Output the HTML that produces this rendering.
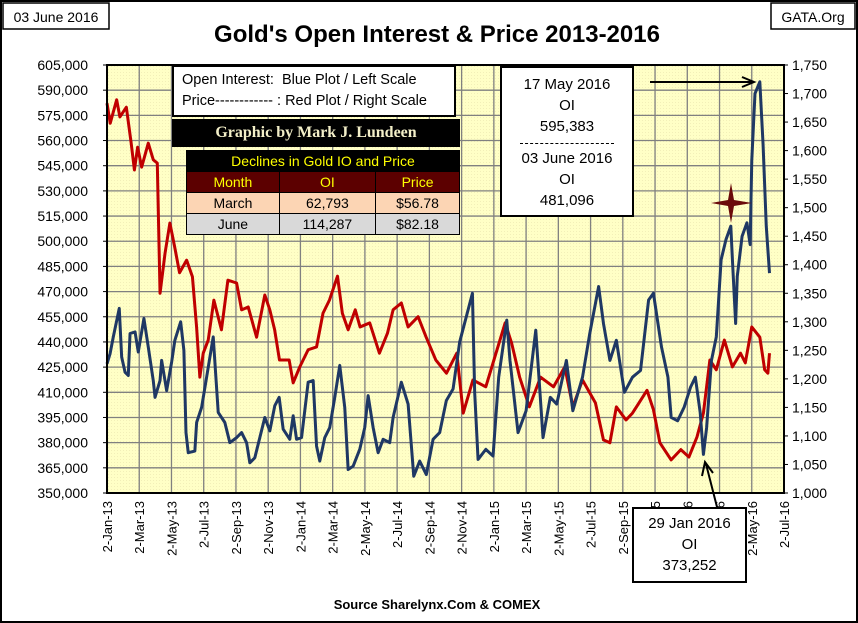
<!DOCTYPE html>
<html><head><meta charset="utf-8"><style>
body{margin:0;background:#fff;}
#wrap{position:relative;width:858px;height:623px;overflow:hidden;font-family:"Liberation Sans",sans-serif;}
</style></head><body>
<div id="wrap">
<svg id="svg" width="858" height="623" xmlns="http://www.w3.org/2000/svg">
<defs><pattern id="dots" width="3" height="3" patternUnits="userSpaceOnUse"><rect width="3" height="3" fill="#ffffc6"/><rect width="1" height="1" fill="#f2efb8"/></pattern></defs>
<rect x="1" y="1" width="856" height="621" fill="#fff" stroke="#000" stroke-width="2"/>
<rect x="3" y="3" width="106" height="26" fill="#fff" stroke="#000" stroke-width="1.5"/>
<text x="56" y="22" font-size="14" text-anchor="middle">03 June 2016</text>
<rect x="771" y="3" width="84" height="26" fill="#fff" stroke="#000" stroke-width="1.5"/>
<text x="813" y="22" font-size="14" text-anchor="middle">GATA.Org</text>
<text x="437" y="42" font-size="24" font-weight="bold" text-anchor="middle">Gold's Open Interest &amp; Price 2013-2016</text>
<rect x="107" y="65" width="677" height="428" fill="url(#dots)"/>
<g id="grid"></g><g id="series"></g><g id="axes"></g>
<text x="437" y="609" font-size="13" font-weight="bold" text-anchor="middle">Source Sharelynx.Com &amp; COMEX</text>
</svg>
<div style="position:absolute;left:172px;top:65px;width:284px;height:52px;background:#fff;border:2px solid #000;box-sizing:border-box;font-size:14.5px;line-height:21px;padding:3px 0 0 8px;">
<div>Open Interest:&nbsp; Blue Plot / Left Scale</div>
<div>Price------------ : Red Plot / Right Scale</div></div>
<div style="position:absolute;left:172px;top:119px;width:288px;height:28px;background:#000;color:#f3efc8;font-family:'Liberation Serif',serif;font-weight:bold;font-size:16px;line-height:28px;text-align:center;">Graphic by Mark J. Lundeen</div>
<table style="position:absolute;left:186px;top:150px;width:274px;border-collapse:collapse;font-size:14px;text-align:center;">
<tr style="background:#000;color:#ffff00;height:21px"><td colspan="3" style="border:1px solid #000">Declines in Gold IO and Price</td></tr>
<tr style="background:#5c0000;color:#ffff00;height:21px"><td style="border:1px solid #000;width:34%">Month</td><td style="border:1px solid #000">OI</td><td style="border:1px solid #000">Price</td></tr>
<tr style="background:#fcd5b4;height:21px"><td style="border:1px solid #000">March</td><td style="border:1px solid #000">62,793</td><td style="border:1px solid #000">$56.78</td></tr>
<tr style="background:#d9d9d9;height:21px"><td style="border:1px solid #000">June</td><td style="border:1px solid #000">114,287</td><td style="border:1px solid #000">$82.18</td></tr>
</table>
<div style="position:absolute;left:500px;top:66px;width:134px;height:151px;background:#fff;border:2px solid #000;box-sizing:border-box;font-size:15px;line-height:21px;text-align:center;padding-top:6px;">17 May 2016<br>OI<br>595,383<div style="border-top:1px dashed #000;margin:6px 18px 4px"></div>03 June 2016<br>OI<br>481,096</div>
<div style="position:absolute;left:632px;top:507px;width:115px;height:76px;background:#fff;border:2px solid #000;box-sizing:border-box;font-size:15px;line-height:21px;text-align:center;padding-top:4px;">29 Jan 2016<br>OI<br>373,252</div>
</div>
<script>
const xTicks=["2-Jan-13","2-Mar-13","2-May-13","2-Jul-13","2-Sep-13","2-Nov-13","2-Jan-14","2-Mar-14","2-May-14","2-Jul-14","2-Sep-14","2-Nov-14","2-Jan-15","2-Mar-15","2-May-15","2-Jul-15","2-Sep-15","2-Nov-15","2-Jan-16","2-Mar-16","2-May-16","2-Jul-16"];
const leftTicks=[350000,365000,380000,395000,410000,425000,440000,455000,470000,485000,500000,515000,530000,545000,560000,575000,590000,605000];
const rightTicks=[1000,1050,1100,1150,1200,1250,1300,1350,1400,1450,1500,1550,1600,1650,1700,1750];
const oiMonths=[0,0.19,0.39,0.76,0.91,1.12,1.32,1.43,1.74,1.94,2.29,2.56,2.87,2.98,3.29,3.39,3.7,4.01,4.21,4.57,4.77,4.9,5.04,5.45,5.56,5.87,6.18,6.59,6.9,7.31,7.62,8.04,8.35,8.66,8.86,9.17,9.48,9.79,10.1,10.41,10.68,10.93,11.34,11.55,11.76,12.07,12.48,12.79,13,13.2,13.51,13.82,14.13,14.44,14.75,14.96,15.27,15.68,15.99,16.2,16.51,16.82,17.13,17.54,17.75,18.26,18.68,19.03,19.4,19.81,20.23,20.64,21.05,21.47,21.88,22.29,22.67,22.81,23.02,23.5,23.95,24.3,24.8,25,25.5,26,26.6,27.05,27.5,27.9,28.5,28.9,29.5,29.95,30.5,30.8,31.2,31.6,32.1,32.6,33.1,33.6,33.9,34.4,34.8,35,35.4,35.8,36.2,36.5,36.8,37,37.2,37.5,37.8,38.1,38.4,38.7,38.8,39,39.1,39.4,39.7,39.9,40,40.2,40.5,40.7,40.9,41.1];
const oiValues=[427000,433000,443000,460000,431000,422000,420000,445000,446000,434000,454000,437000,417000,407000,417000,429000,411000,428000,441000,452000,435000,386000,374000,375000,392000,401000,419000,443000,398000,392000,380000,383000,386000,380000,368000,371000,383000,395000,387000,402000,407000,388000,382000,396000,382000,383000,416000,417000,378000,369000,383000,389000,407000,426000,401000,364000,366000,376000,389000,408000,389000,374000,382000,380000,395000,416000,403000,360000,369000,361000,382000,386000,405000,412000,440000,455000,469000,410000,370000,376000,372000,419000,453000,429000,386000,399000,447000,383000,407000,403000,429000,399000,419000,445000,473000,451000,429000,441000,410000,419000,423000,465000,469000,437000,419000,395000,393000,401000,413000,419000,398000,373000,389000,429000,443000,489000,501000,509000,489000,451000,479000,503000,511000,498000,548000,588000,595000,558000,509000,481000];
const priceMonths=[0,0.2,0.6,0.8,1.2,1.5,1.7,1.9,2.15,2.56,2.87,3.12,3.29,3.6,3.9,4.2,4.5,4.94,5.3,5.56,5.76,5.97,6.28,6.63,7.1,7.5,8.04,8.35,8.76,9.28,9.79,10.1,10.4,10.7,11.3,11.55,11.96,12.48,13,13.4,13.8,14.3,14.6,14.96,15.4,15.7,16.3,16.9,17.4,17.75,18.26,18.68,19.3,19.8,20.4,21.06,21.7,22.1,22.7,23.5,24.7,25.1,25.6,26.2,26.9,27.7,28.4,28.9,29.5,30.3,30.8,31.2,31.6,32.2,32.6,33.5,33.9,34.3,35,35.6,36.1,36.6,37,37.4,37.8,38.3,38.8,39.3,39.6,40,40.5,40.8,41,41.1];
const priceValues=[1683,1648,1689,1659,1676,1613,1566,1606,1571,1613,1584,1578,1350,1420,1473,1431,1386,1408,1379,1290,1203,1245,1268,1338,1286,1373,1368,1321,1326,1273,1347,1321,1286,1233,1233,1193,1221,1251,1256,1315,1338,1380,1315,1286,1321,1291,1298,1245,1280,1321,1333,1291,1309,1273,1233,1210,1245,1140,1198,1186,1298,1263,1203,1151,1203,1186,1221,1151,1198,1158,1093,1088,1151,1128,1140,1180,1146,1088,1058,1076,1063,1098,1140,1233,1216,1268,1221,1245,1228,1291,1273,1216,1210,1245];
const X0=107,X1=784,Y0=493,Y1=65,NM=42;
const xs=m=>X0+m/NM*(X1-X0);
const yL=v=>Y0-(v-350000)/(605000-350000)*(Y0-Y1);
const yR=v=>Y0-(v-1000)/(1750-1000)*(Y0-Y1);
const NS="http://www.w3.org/2000/svg";
function mk(t,a,p){const e=document.createElementNS(NS,t);for(const k in a)e.setAttribute(k,a[k]);p.appendChild(e);return e;}
const grid=document.getElementById('grid'),axes=document.getElementById('axes'),ser=document.getElementById('series');
leftTicks.forEach(v=>{const y=yL(v);
 const l=mk('line',{x1:X0,x2:X1,y1:y,y2:y,stroke:'#808080','stroke-width':1.3},grid);
 
 
 const t=mk('text',{x:88,y:y+5,'font-size':14,'text-anchor':'end'},axes);t.textContent=v.toLocaleString('en-US');
 
 
 mk('line',{x1:X0-4,x2:X0,y1:y,y2:y,stroke:'#000'},axes);});
rightTicks.forEach(v=>{const y=yR(v);
 const t=mk('text',{x:792,y:y+5,'font-size':14},axes);t.textContent=v.toLocaleString('en-US');
 
 
 mk('line',{x1:X1,x2:X1+4,y1:y,y2:y,stroke:'#000'},axes);});
xTicks.forEach((s,i)=>{const x=xs(i*2);
 const l=mk('line',{x1:x,x2:x,y1:Y1,y2:Y0,stroke:'#808080','stroke-width':1.3},grid);
 
 
 const t=mk('text',{x:0,y:0,'font-size':13,'text-anchor':'end',transform:`translate(${x+5},${Y0+8}) rotate(-90)`},axes);t.textContent=s;
 
 });
mk('rect',{x:X0,y:Y1,width:X1-X0,height:Y0-Y1,fill:'none',stroke:'#000','stroke-width':2},axes);
const pr=mk('polyline',{points:priceMonths.map((m,i)=>xs(m)+','+yR(priceValues[i])).join(' '),fill:'none',stroke:'#c00000','stroke-width':3,'stroke-linejoin':'round'},ser);


const oi=mk('polyline',{points:oiMonths.map((m,i)=>xs(m)+','+yL(oiValues[i])).join(' '),fill:'none',stroke:'#1f3864','stroke-width':3,'stroke-linejoin':'round'},ser);


const st=mk('path',{d:'M731,183 L734,200 L752,203 L734,206 L731,223 L728,206 L711,203 L728,200 Z',fill:'#6b0b0b'},axes);


const a1=mk('path',{d:'M650,82 L752,82 M742,77 L754,82 L742,87',fill:'none',stroke:'#000','stroke-width':2},axes);


const a2=mk('path',{d:'M717,507 L706,464 M702,476 L705,462 L713,473',fill:'none',stroke:'#000','stroke-width':2},axes);


</script>
</body></html>
